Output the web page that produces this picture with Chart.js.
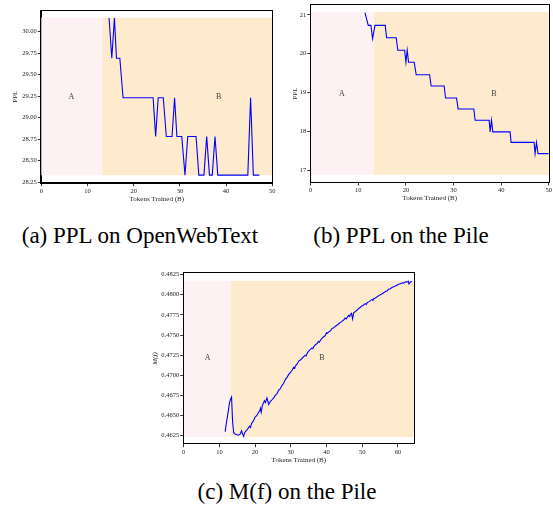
<!DOCTYPE html>
<html>
<head>
<meta charset="utf-8">
<script src="https://cdn.jsdelivr.net/npm/chart.js@4.4.1/dist/chart.umd.min.js"></script>
<style>
  body { margin: 0; background: #fff; }
  #page { position: relative; width: 553px; height: 507px; overflow: hidden; }
  canvas { position: absolute; }
  .cap { position: absolute; width: 300px; text-align: center; font-family: "Liberation Serif", serif; font-size: 23px; line-height: 23px; color: #000; white-space: nowrap; }
</style>
</head>
<body>
<div id="page">
  <canvas id="owt" width="280" height="210" style="left:0px;top:0px"></canvas>
  <canvas id="pile" width="273" height="210" style="left:280px;top:0px"></canvas>
  <canvas id="mf" width="280" height="210" style="left:140px;top:260px"></canvas>
  <div class="cap" style="left:-10px;top:224px">(a) PPL on OpenWebText</div>
  <div class="cap" style="left:251px;top:224px">(b) PPL on the Pile</div>
  <div class="cap" style="left:137px;top:480px">(c) M(f) on the Pile</div>
</div>
<script>
// (a) PPL on OpenWebText
const owtTokens = [14.67, 15.26, 15.83, 16.27, 17.0, 17.7, 24.2, 24.75, 25.3, 26.4, 27.06, 28.3, 28.85, 29.35, 30.4,
  31.1, 31.7, 33.5, 34.1, 35.2, 35.8, 36.4, 37.0, 37.6, 38.2, 44.7, 45.3, 45.9, 47.2];
const owtPPL = [30.16, 29.69, 30.16, 29.69, 29.69, 29.23, 29.23, 28.78, 29.23, 29.23, 28.78, 28.78, 29.23, 28.78, 28.78,
  28.33, 28.78, 28.78, 28.33, 28.33, 28.78, 28.33, 28.33, 28.78, 28.33, 28.33, 29.23, 28.33, 28.33];

// (b) PPL on the Pile
const pileTokens = [11.39, 12.09, 12.65, 13.0, 13.5, 15.66, 15.94, 17.96, 18.3, 19.72, 20.0, 20.27, 20.56, 21.74, 22.16,
  24.97, 25.3, 28.03, 28.32, 30.63, 30.97, 34.26, 34.54, 37.48, 37.69, 37.97, 38.25, 41.88, 42.09, 46.92, 47.13, 47.42, 47.76, 50.0];
const pilePPL = [21.06, 20.73, 20.73, 20.39, 20.73, 20.73, 20.41, 20.41, 20.09, 20.09, 19.78, 20.09, 19.78, 19.78, 19.46,
  19.46, 19.17, 19.17, 18.86, 18.86, 18.58, 18.58, 18.29, 18.29, 17.99, 18.29, 17.99, 17.99, 17.72, 17.72, 17.43, 17.72, 17.43, 17.43];

// (c) M(f) on the Pile
const mfTokens = [11.6, 12.0, 12.4, 12.8, 13.1, 13.4, 13.7, 14.0, 14.4, 14.9, 15.3, 15.8, 16.2, 16.5, 16.8, 17.1, 17.5, 17.9,
  18.4, 18.7, 19.0, 19.5, 20.0, 20.5, 20.9, 21.3, 21.5, 21.7, 22.0, 22.6, 22.9, 23.3, 23.5, 23.8, 24.2, 24.8, 25.2, 25.7,
  26.1, 26.6, 27.0, 27.6, 28.0, 28.5, 28.9, 29.4, 29.8, 30.4, 30.8, 31.1, 31.3, 31.8, 32.2, 32.7, 33.1, 33.6, 34.0, 34.3,
  34.6, 35.0, 35.5, 35.9, 36.2, 36.4, 36.9, 37.4, 37.7, 38.0, 38.3, 38.7, 39.2, 39.6, 40.0, 40.2, 40.6, 41.1, 41.5, 42.0,
  42.5, 43.0, 43.4, 43.9, 44.3, 44.8, 45.2, 45.5, 45.8, 46.2, 46.5, 46.7, 47.0, 47.3, 47.6, 48.0, 48.3, 48.6, 49.0, 49.5,
  49.9, 50.4, 50.8, 51.1, 51.4, 51.9, 52.3, 52.7, 53.0, 53.2, 53.7, 54.2, 54.6, 55.1, 55.5, 56.0, 56.5, 57.0, 57.4, 57.9,
  58.3, 58.8, 59.3, 59.8, 60.2, 60.7, 61.2, 61.6, 62.1, 62.6, 62.9, 63.1, 63.5, 63.9];
const mfValues = [0.46300, 0.46420, 0.46530, 0.46650, 0.46700, 0.46730, 0.46420, 0.46290, 0.46270, 0.46262, 0.46255,
  0.46268, 0.46310, 0.46270, 0.46240, 0.46290, 0.46312, 0.46330, 0.46368, 0.46350, 0.46402, 0.46430, 0.46480, 0.46500,
  0.46534, 0.46560, 0.46590, 0.46540, 0.46620, 0.46683, 0.46660, 0.46720, 0.46690, 0.46638, 0.46670, 0.46699, 0.46720,
  0.46754, 0.46770, 0.46816, 0.46830, 0.46878, 0.46900, 0.46949, 0.46970, 0.47011, 0.47030, 0.47065, 0.47100, 0.47090,
  0.47118, 0.47140, 0.47177, 0.47190, 0.47210, 0.47230, 0.47250, 0.47240, 0.47276, 0.47300, 0.47322, 0.47340, 0.47330,
  0.47354, 0.47380, 0.47397, 0.47420, 0.47410, 0.47434, 0.47460, 0.47479, 0.47490, 0.47530, 0.47521, 0.47540, 0.47553,
  0.47580, 0.47591, 0.47610, 0.47624, 0.47640, 0.47658, 0.47670, 0.47687, 0.47710, 0.47700, 0.47720, 0.47745, 0.47730,
  0.47757, 0.47770, 0.47700, 0.47777, 0.47790, 0.47800, 0.47811, 0.47830, 0.47845, 0.47860, 0.47873, 0.47890, 0.47880,
  0.47902, 0.47915, 0.47927, 0.47940, 0.47930, 0.47951, 0.47960, 0.47976, 0.47990, 0.48001, 0.48010, 0.48026, 0.48040,
  0.48051, 0.48070, 0.48076, 0.48090, 0.48101, 0.48110, 0.48122, 0.48130, 0.48138, 0.48150, 0.48145, 0.48160, 0.48159,
  0.48170, 0.48134, 0.48160, 0.48168];

// phases: A before the split, B after
const phaseNames = ['A', 'B'];

const PINK = '#fdf1f4';
const PEACH = '#feebce';
const SERIF = '"Liberation Serif", serif';

// shaded phase bands + A/B text + closed frame, all placed through the chart scales
const phasePlugin = {
  id: 'phases',
  beforeDatasetsDraw(chart, args, opts) {
    const { ctx, scales: { x, y } } = chart;
    const top = y.getPixelForValue(opts.band[1]);
    const bottom = y.getPixelForValue(opts.band[0]);
    const x0 = x.getPixelForValue(x.min);
    const xs = x.getPixelForValue(opts.split);
    const x1 = x.getPixelForValue(x.max);
    ctx.save();
    ctx.fillStyle = PINK;
    ctx.fillRect(x0, top, xs - x0, bottom - top);
    ctx.fillStyle = PEACH;
    ctx.fillRect(xs, top, x1 - xs, bottom - top);
    ctx.fillStyle = '#444';
    ctx.font = '8px ' + SERIF;
    ctx.textAlign = 'center';
    ctx.textBaseline = 'middle';
    phaseNames.forEach((name, i) => {
      ctx.fillText(name, x.getPixelForValue(opts.labelX[i]), y.getPixelForValue(opts.labelY));
    });
    ctx.restore();
  },
  afterDraw(chart) {
    const { ctx, chartArea: a } = chart;
    ctx.save();
    ctx.strokeStyle = '#000';
    ctx.lineWidth = 1;
    ctx.strokeRect(Math.round(a.left) - 0.5, Math.round(a.top) - 0.5, Math.round(a.right - a.left) + 1, Math.round(a.bottom - a.top) + 1);
    ctx.restore();
  }
};

function makeChart(id, c) {
  const tickFont = { family: SERIF, size: 6.5 };
  const titleFont = { family: SERIF, size: 7 };
  const grid = { display: true, drawOnChartArea: false, drawTicks: true, tickLength: 3.5, color: '#000', lineWidth: 0.8 };
  return new Chart(document.getElementById(id), {
    type: 'scatter',
    data: {
      datasets: [{
        data: c.xs.map((x, i) => ({ x, y: c.ys[i] })),
        showLine: true,
        borderColor: '#0000ff',
        borderWidth: 1.1,
        pointRadius: 0,
        fill: false
      }]
    },
    options: {
      responsive: false,
      animation: false,
      events: [],
      layout: { padding: c.pad },
      plugins: {
        legend: { display: false },
        tooltip: { enabled: false },
        phases: c.phases
      },
      scales: {
        x: {
          type: 'linear',
          min: 0,
          max: c.xMax,
          afterFit: s => { s.height = c.xH; },
          ticks: { stepSize: 10, includeBounds: false, font: tickFont, color: '#222', padding: 1, maxRotation: 0 },
          grid,
          border: { display: true, color: '#000', width: 1 },
          title: { display: true, text: 'Tokens Trained (B)', font: titleFont, color: '#222', padding: { top: 0, bottom: c.xTitlePad } }
        },
        y: {
          min: c.yMin,
          max: c.yMax,
          afterFit: s => { s.width = c.yW; },
          ticks: { stepSize: c.yStep, includeBounds: false, font: tickFont, color: '#222', padding: 1, callback: v => v.toFixed(c.dec) },
          grid,
          border: { display: true, color: '#000', width: 1 },
          title: { display: true, text: c.yTitle, font: Object.assign({ style: c.yItalic ? 'italic' : 'normal' }, titleFont), color: '#222', padding: { top: 10.8, bottom: 0 } }
        }
      }
    },
    plugins: [phasePlugin]
  });
}

makeChart('owt', {
  xs: owtTokens, ys: owtPPL, xMax: 50, yMin: 28.242, yMax: 30.244, yStep: 0.25, dec: 2, yTitle: 'PPL',
  pad: { top: 10.7, right: 7.7, left: 0, bottom: 0 }, yW: 41.3, xH: 27.3, xTitlePad: 6.8,
  phases: { split: 13.2, band: [28.328, 30.163], labelX: [6.5, 38.4], labelY: 29.244 }
});

makeChart('pile', {
  xs: pileTokens, ys: pilePPL, xMax: 50, yMin: 16.70, yMax: 21.257, yStep: 1, dec: 0, yTitle: 'PPL',
  pad: { top: 4.7, right: 4, left: 0, bottom: 0 }, yW: 30.7, xH: 28, xTitlePad: 7.8,
  phases: { split: 13.28, band: [16.887, 21.07], labelX: [6.57, 38.5], labelY: 18.97 }
});

makeChart('mf', {
  xs: mfTokens, ys: mfValues, xMax: 64.5, yMin: 0.4615, yMax: 0.48267, yStep: 0.0025, dec: 4, yTitle: 'M(f)', yItalic: true,
  pad: { top: 13.3, right: 6, left: 0, bottom: 0 }, yW: 43.7, xH: 26.3, xTitlePad: 5.5,
  phases: { split: 13.25, band: [0.46234, 0.48175], labelX: [6.7, 38.7], labelY: 0.4721 }
});
</script>
</body>
</html>
